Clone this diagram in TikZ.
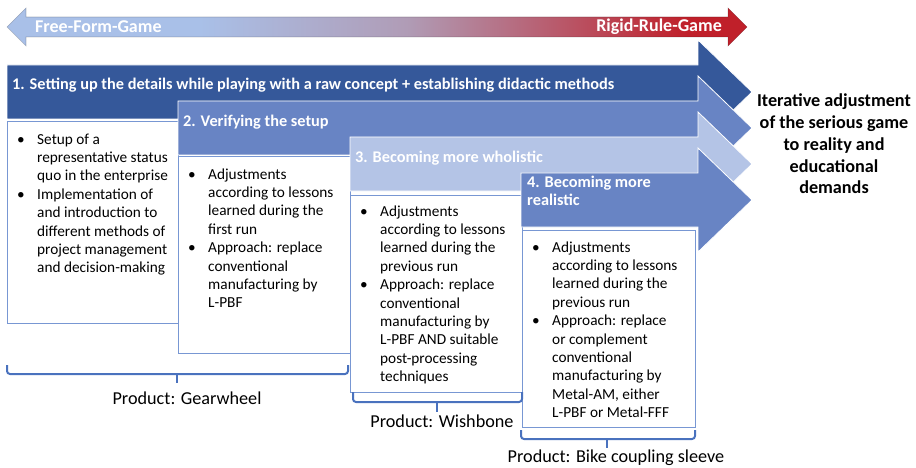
\documentclass[tikz,border=0pt]{standalone}
\usepackage{fontspec}
\setmainfont{Carlito}
\usetikzlibrary{positioning}

\definecolor{stagedark}{HTML}{35589A}
\definecolor{stagemid}{HTML}{6884C4}
\definecolor{stagelight}{HTML}{B4C4E6}
\definecolor{boxline}{HTML}{7897D3}
\definecolor{bracecol}{HTML}{4A72BE}
\definecolor{gameblue}{HTML}{A9C0E8}
\definecolor{gamemauve}{HTML}{B09CB6}
\definecolor{gamered}{HTML}{C0202A}
\pgfdeclarehorizontalshading{gamescale}{100bp}{color(0bp)=(gameblue); color(38bp)=(gameblue); color(52bp)=(gamemauve); color(71bp)=(gamered); color(100bp)=(gamered)}

\begin{document}
\begin{tikzpicture}[x=1pt, y=-1pt,
  stage/.style={draw=white, line width=0.8pt},
  heading/.style={text=white, font=\bfseries\fontsize{16.3}{18}\selectfont, inner sep=0pt, align=left},
  textbox/.style={draw=boxline, fill=white, line width=1pt, inner sep=0pt, anchor=north west},
  bullets/.style={font=\fontsize{15.3}{18.4}\selectfont, inner sep=0pt, anchor=north west},
  bracket/.style={draw=bracecol, line width=2pt, rounded corners=3pt},
  product/.style={font=\fontsize{18.2}{20}\selectfont, inner sep=0pt},
  gamelabel/.style={text=white, font=\bfseries\fontsize{18}{20}\selectfont, inner sep=0pt}]

\useasboundingbox (0,0) rectangle (916,468);

% scale: free form game <-> rigid rule game
\shade[shading=gamescale, draw=black, draw opacity=0.2, line width=0.6pt]
  (7,27) -- (26,8) -- (26,17) -- (728,17) -- (728,8) -- (747,27)
  -- (728,46) -- (728,37) -- (26,37) -- (26,46) -- cycle;
\node[gamelabel, anchor=west] (free) at (35,27) {Free-Form-Game};
\node[gamelabel, anchor=east] (rigid) at (722,27) {Rigid-Rule-Game};

% stage 1
\path[stage, fill=stagedark] (7,65) -- (698,65) -- (698,40) -- (752,92)
  -- (698,144) -- (698,119) -- (7,119) -- cycle;
\node[heading, anchor=west] (stage1) at (12,85)
  {1. Setting up the details while playing with a raw concept + establishing didactic methods};
\node[textbox, minimum width=171pt, minimum height=202pt] (box1) at (7,121) {};
\node[bullets] (list1) at ([shift={(10,10)}]box1.north west) {%
  \begin{tabular}{@{}p{20pt}@{}l@{}}
  \textbullet & Setup of a\\
              & representative status\\
              & quo in the enterprise\\
  \textbullet & Implementation of\\
              & and introduction to\\
              & different methods of\\
              & project management\\
              & and decision-making
  \end{tabular}};

% stage 2
\path[stage, fill=stagemid] (178,101) -- (698,101) -- (698,76) -- (752,128)
  -- (698,180) -- (698,155) -- (178,155) -- cycle;
\node[heading, anchor=west] (stage2) at (183,122) {2. Verifying the setup};
\node[textbox, minimum width=172pt, minimum height=197pt] (box2) at (178,156) {};
\node[bullets] (list2) at ([shift={(10,10)}]box2.north west) {%
  \begin{tabular}{@{}p{20pt}@{}l@{}}
  \textbullet & Adjustments\\
              & according to lessons\\
              & learned during the\\
              & first run\\
  \textbullet & Approach: replace\\
              & conventional\\
              & manufacturing by\\
              & L-PBF
  \end{tabular}};

% stage 3
\path[stage, fill=stagelight] (350,137) -- (698,137) -- (698,112) -- (752,164)
  -- (698,216) -- (698,191) -- (350,191) -- cycle;
\node[heading, anchor=west] (stage3) at (355,158) {3. Becoming more wholistic};
\node[textbox, minimum width=172pt, minimum height=197pt] (box3) at (350,195) {};
\node[bullets] (list3) at ([shift={(10,8)}]box3.north west) {%
  \begin{tabular}{@{}p{20pt}@{}l@{}}
  \textbullet & Adjustments\\
              & according to lessons\\
              & learned during the\\
              & previous run\\
  \textbullet & Approach: replace\\
              & conventional\\
              & manufacturing by\\
              & L-PBF AND suitable\\
              & post-processing\\
              & techniques
  \end{tabular}};

% stage 4
\path[stage, fill=stagemid] (521,173) -- (698,173) -- (698,148) -- (752,200)
  -- (698,252) -- (698,227) -- (521,227) -- cycle;
\node[heading, anchor=north west] (stage4) at (527,176) {4. Becoming more\\realistic};
\node[textbox, minimum width=173pt, minimum height=197pt] (box4) at (522,230) {};
\node[bullets] (list4) at ([shift={(10,9)}]box4.north west) {%
  \begin{tabular}{@{}p{20pt}@{}l@{}}
  \textbullet & Adjustments\\
              & according to lessons\\
              & learned during the\\
              & previous run\\
  \textbullet & Approach: replace\\
              & or complement\\
              & conventional\\
              & manufacturing by\\
              & Metal-AM, either\\
              & L-PBF or Metal-FFF
  \end{tabular}};

% overall aim
\node[font=\bfseries\fontsize{18.2}{21.8}\selectfont, align=center, inner sep=0pt] (aim) at (834,144)
  {Iterative adjustment\\of the serious game\\to reality and\\educational\\demands};

% products
\coordinate (tip1) at (177,383);
\draw[bracket] (7,365) -- (7,374) -- (348,374) -- (348,365);
\draw[bracket] (177,374) -- (tip1);
\node[product] (prod1) at (187,398) {Product: Gearwheel};

\coordinate (tip2) at (437,412);
\draw[bracket] (353,392) -- (353,402) -- (522,402) -- (522,392);
\draw[bracket] (437,402) -- (tip2);
\node[product] (prod2) at (442,421) {Product: Wishbone};

\coordinate (tip3) at (607,448);
\draw[bracket] (521,430) -- (521,439) -- (695,439) -- (695,430);
\draw[bracket] (607,439) -- (tip3);
\node[product] (prod3) at (616,458) {Product: Bike coupling sleeve};
\end{tikzpicture}
\end{document}
